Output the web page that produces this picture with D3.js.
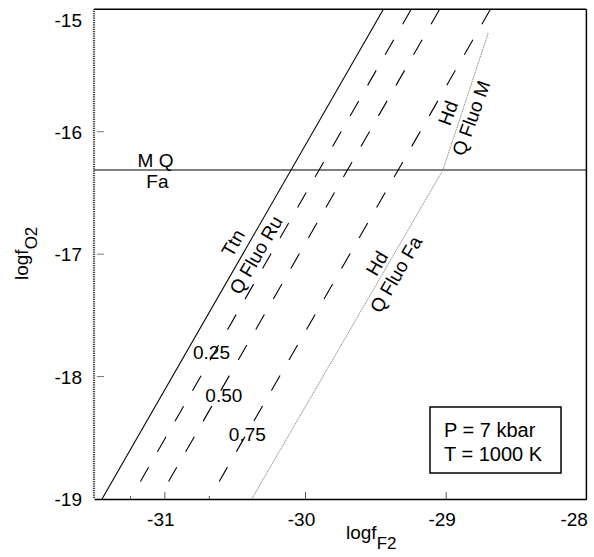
<!DOCTYPE html>
<html>
<head>
<meta charset="utf-8">
<script src="https://cdn.jsdelivr.net/npm/d3@7/dist/d3.min.js"></script>
<style>
  html, body { margin: 0; padding: 0; background: #fff; }
  svg { display: block; font-family: "Liberation Sans", Arial, Helvetica, sans-serif; }
</style>
</head>
<body>
<div id="chart"></div>
<script>
// logfO2 vs logfF2 phase diagram, P = 7 kbar, T = 1000 K

var X_DOMAIN = [-31.5, -28];
var Y_DOMAIN = [-19, -15];
var X_TICKS = [-31, -30, -29, -28];
var X_MINOR = [-31.24, -30.68];
var Y_TICKS = [-15, -16, -17, -18, -19];

// Ttn = Q Fluo Ru reaction (solid)
var SOLID_LINE = [[-31.443, -19], [-29.443, -15]];
// isopleths (dashed), bottom then top point
var DASHED_LINES = [
  [[-31.170, -18.857], [-29.245, -15]],
  [[-30.970, -18.857], [-29.043, -15]],
  [[-30.610, -18.857], [-28.682, -15]]
];
var DASHED_LABELS = ["0.25", "0.50", "0.75"];
var DASHED_LABEL_POS = [[-30.665, -17.857], [-30.577, -18.206], [-30.410, -18.527]];
// Hd = Q Fluo Fa / Hd = Q Fluo M (thin grey)
var HD_LINE = [[-30.379, -19], [-29.020, -16.313], [-28.698, -15.194]];
// MQ = Fa buffer
var MQF_Y = -16.313;

var CURVE_LABELS = [
  { text: "M Q", x: -31.063, y: -16.290 },
  { text: "Fa", x: -31.049, y: -16.460 }
];
var ROT_LABELS = [
  { text: "Ttn", x: -30.512, y: -16.909, rot: -60 },
  { text: "Q Fluo Ru", x: -30.349, y: -17.007, rot: -60 },
  { text: "Hd", x: -28.984, y: -15.847, rot: -70 },
  { text: "Q Fluo M", x: -28.820, y: -15.889, rot: -70 },
  { text: "Hd", x: -29.489, y: -17.075, rot: -60 },
  { text: "Q Fluo Fa", x: -29.354, y: -17.165, rot: -60 }
];
var BOX_LINES = ["P = 7 kbar", "T = 1000 K"];

(function () {
  var W = 594, H = 557;
  var mLeft = 94, mTop = 9.3, mRight = 586.4, mBottom = 499;
  var FS = 19;

  var svg = d3.select("#chart").append("svg")
    .attr("width", W).attr("height", H);

  var x = d3.scaleLinear().domain(X_DOMAIN).range([mLeft, mRight]);
  var y = d3.scaleLinear().domain(Y_DOMAIN).range([mBottom, mTop]);

  var line = d3.line().x(function (d) { return x(d[0]); }).y(function (d) { return y(d[1]); });

  var plot = svg.append("g");

  // MQ / Fa horizontal
  plot.append("line")
    .attr("x1", x(X_DOMAIN[0])).attr("x2", x(X_DOMAIN[1]))
    .attr("y1", y(MQF_Y)).attr("y2", y(MQF_Y))
    .attr("stroke", "#000").attr("stroke-width", 1.1);

  // solid reaction
  plot.append("path").attr("d", line(SOLID_LINE))
    .attr("fill", "none").attr("stroke", "#000").attr("stroke-width", 1.1);

  // dashed isopleths, dash phase from the top edge
  plot.selectAll("path.iso").data(DASHED_LINES).enter().append("path")
    .attr("class", "iso")
    .attr("d", function (d) { return line(d.slice().reverse()); })
    .attr("fill", "none").attr("stroke", "#000").attr("stroke-width", 1.1)
    .attr("stroke-dasharray", "17.3,17.9");

  // Hd line
  plot.append("path").attr("d", line(HD_LINE))
    .attr("fill", "none").attr("stroke", "#7a7a7a").attr("stroke-width", 0.85)
    .attr("stroke-dasharray", "1.6,0.8");

  // frame
  svg.append("line").attr("x1", mLeft).attr("x2", mRight).attr("y1", mTop).attr("y2", mTop)
    .attr("stroke", "#000").attr("stroke-width", 1.5);
  svg.append("line").attr("x1", mRight).attr("x2", mRight).attr("y1", mTop).attr("y2", mBottom)
    .attr("stroke", "#000").attr("stroke-width", 1.5);
  svg.append("line").attr("x1", mLeft).attr("x2", mLeft).attr("y1", mTop).attr("y2", mBottom)
    .attr("stroke", "#444").attr("stroke-width", 2.2).attr("stroke-dasharray", "1,0.8");

  // x axis
  var xAxis = svg.append("g")
    .attr("transform", "translate(0," + mBottom + ")")
    .call(d3.axisBottom(x).tickValues(X_TICKS)
      .tickFormat(function (d) { return String(d); })
      .tickSizeInner(-7).tickSizeOuter(0).tickPadding(14));
  xAxis.attr("font-family", null).attr("font-size", FS);
  xAxis.select(".domain").attr("stroke", "#000").attr("stroke-width", 1.5);
  xAxis.selectAll(".tick line").attr("stroke", "#555");
  xAxis.selectAll(".tick text")
    .attr("fill", "#000")
    .attr("dx", -4)
    .filter(function (d) { return d === -28; })
    .attr("text-anchor", "end").attr("dx", 1);
  xAxis.selectAll(".tick").filter(function (d) { return d === -28; }).select("line").remove();

  svg.append("g").selectAll("line").data(X_MINOR).enter().append("line")
    .attr("x1", function (d) { return x(d); }).attr("x2", function (d) { return x(d); })
    .attr("y1", mBottom).attr("y2", mBottom - 3)
    .attr("stroke", "#555");

  // y axis
  var yAxis = svg.append("g")
    .attr("transform", "translate(" + mLeft + ",0)")
    .call(d3.axisLeft(y).tickValues(Y_TICKS)
      .tickFormat(function (d) { return String(d); })
      .tickSize(0).tickPadding(12));
  yAxis.attr("font-family", null).attr("font-size", FS);
  yAxis.select(".domain").remove();
  yAxis.selectAll(".tick text")
    .attr("fill", "#000")
    .attr("dy", "0.36em")
    .filter(function (d) { return d === -15; })
    .attr("dy", "0.88em");

  svg.append("g").selectAll("line").data(Y_TICKS.slice(1, 4)).enter().append("line")
    .attr("x1", mLeft + 3).attr("x2", mLeft + 10)
    .attr("y1", function (d) { return y(d); }).attr("y2", function (d) { return y(d); })
    .attr("stroke", "#777").attr("stroke-width", 1);

  // axis titles
  var xt = svg.append("text").attr("x", 346).attr("y", 539)
    .attr("font-size", FS);
  xt.append("tspan").text("logf");
  xt.append("tspan").attr("dy", 10).attr("font-size", 17).text("F2");

  var yt = svg.append("text").attr("transform", "translate(28,280) rotate(-90)")
    .attr("font-size", FS);
  yt.append("tspan").text("logf");
  yt.append("tspan").attr("dy", 9).attr("font-size", 17).text("O2");

  // labels
  svg.append("g").selectAll("text").data(CURVE_LABELS).enter().append("text")
    .attr("x", function (d) { return x(d.x); }).attr("y", function (d) { return y(d.y); })
    .attr("text-anchor", "middle").attr("font-size", FS)
    .text(function (d) { return d.text; });

  svg.append("g").selectAll("text").data(DASHED_LABELS).enter().append("text")
    .attr("x", function (d, i) { return x(DASHED_LABEL_POS[i][0]); })
    .attr("y", function (d, i) { return y(DASHED_LABEL_POS[i][1]); })
    .attr("text-anchor", "middle").attr("font-size", FS)
    .text(function (d) { return d; });

  svg.append("g").selectAll("text").data(ROT_LABELS).enter().append("text")
    .attr("transform", function (d) {
      return "translate(" + x(d.x) + "," + y(d.y) + ") rotate(" + d.rot + ")";
    })
    .attr("text-anchor", "middle").attr("dy", "0.35em").attr("font-size", FS)
    .text(function (d) { return d.text; });

  // condition box
  svg.append("rect").attr("x", 430).attr("y", 407).attr("width", 131).attr("height", 66)
    .attr("fill", "#fff").attr("stroke", "#000").attr("stroke-width", 1.5);
  svg.append("g").selectAll("text").data(BOX_LINES).enter().append("text")
    .attr("x", 444).attr("y", function (d, i) { return 437 + i * 24; })
    .attr("font-size", 20)
    .text(function (d) { return d; });
})();
</script>
</body>
</html>
